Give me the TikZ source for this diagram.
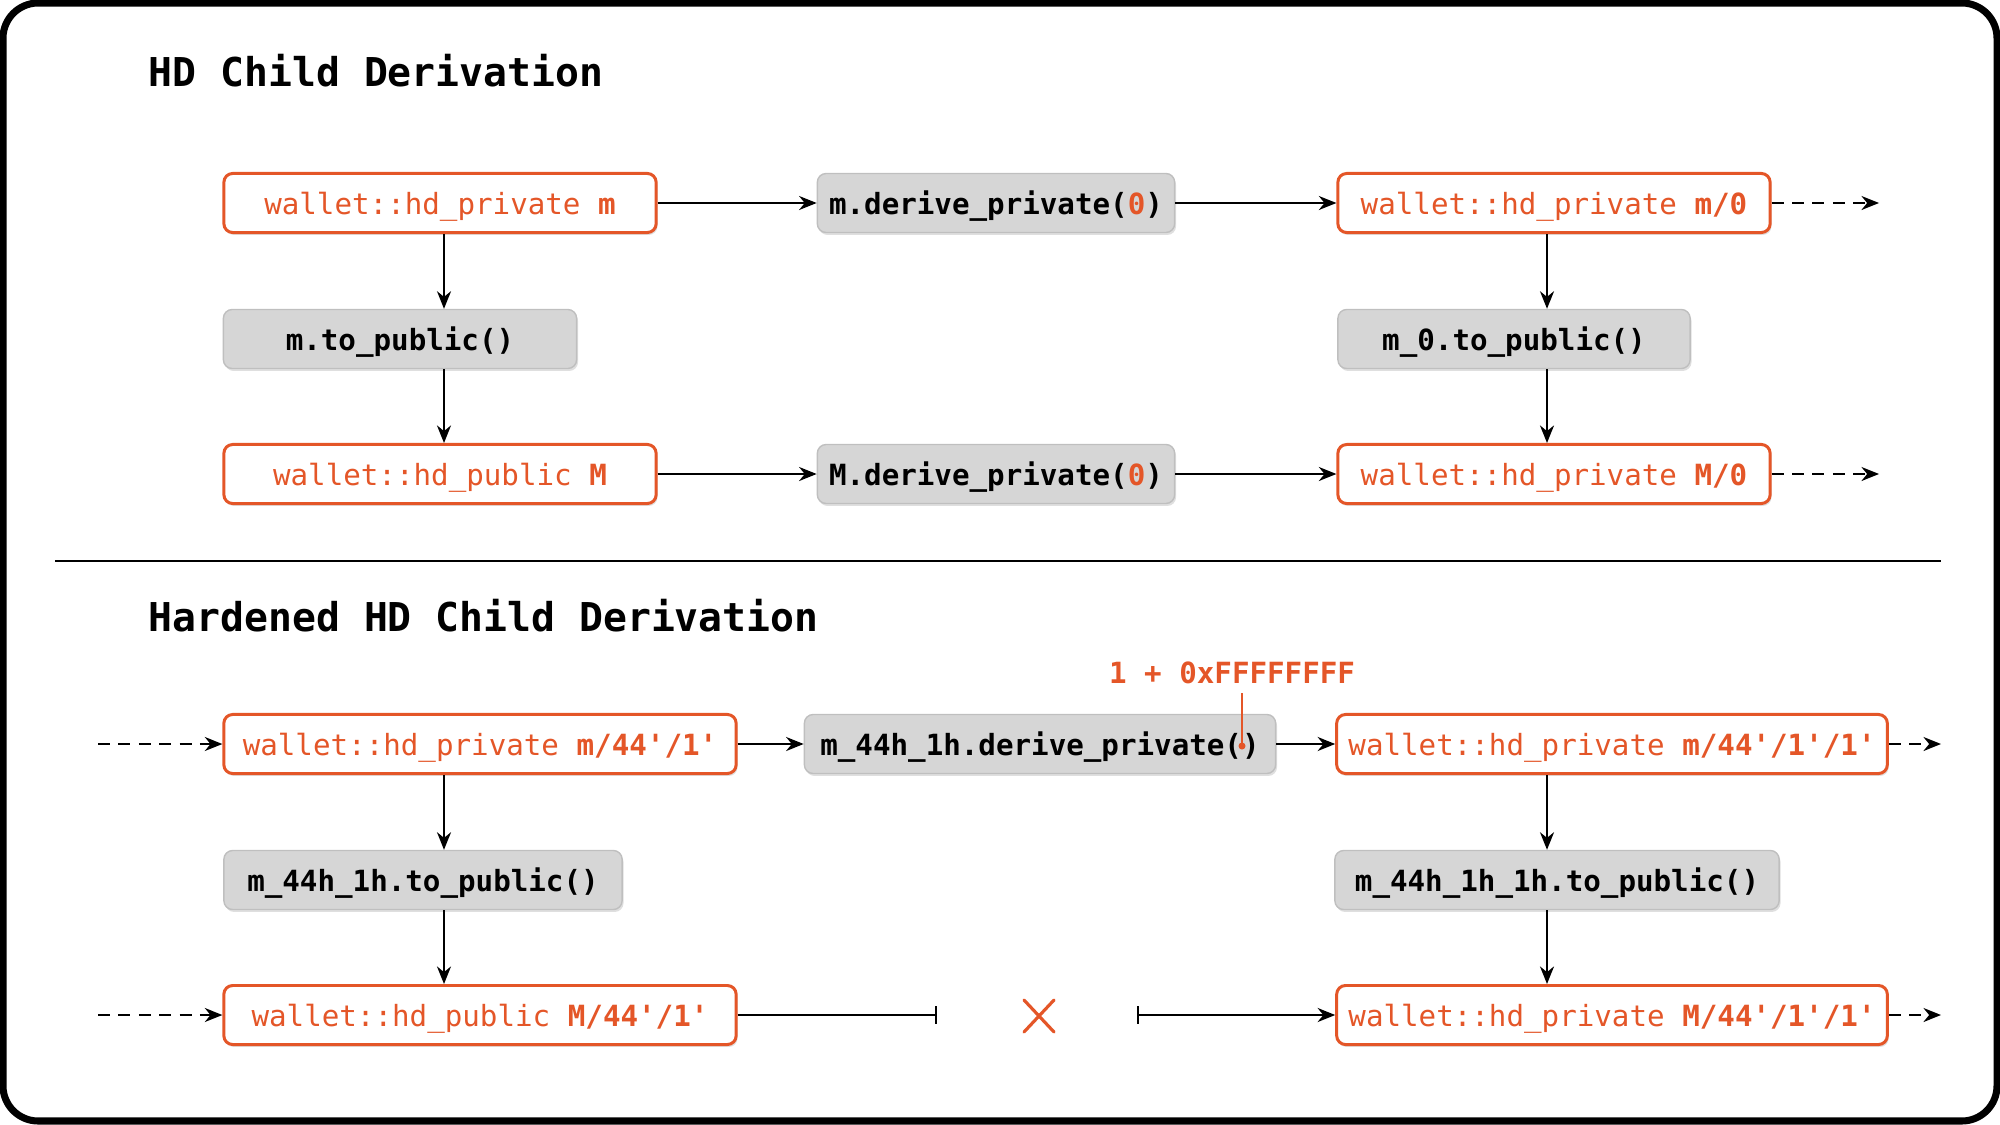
\documentclass[tikz,border=0pt]{standalone}
\usepackage{fontspec}
\setmonofont{DejaVu Sans Mono}
\usepackage{xcolor}
\usepackage{tikz}
\usetikzlibrary{shapes.misc,arrows.meta,positioning,shadows}
\definecolor{hdorange}{RGB}{228,86,40}
\definecolor{callgray}{RGB}{214,214,214}

\begin{document}
\begin{tikzpicture}[
    x=0.01cm, y=-0.01cm,
    key/.style={rectangle, rounded corners=2.5pt, draw=hdorange, line width=0.85pt, fill=white, text=hdorange, font=\ttfamily\fontsize{8.3}{10}\selectfont, text height=0.78em, text depth=0.1em, minimum height=0.59cm, drop shadow={shadow xshift=0.4pt, shadow yshift=-0.7pt, opacity=0.25}},
    call/.style={rectangle, rounded corners=2.5pt, draw=black!25, line width=0.4pt, fill=callgray, font=\ttfamily\bfseries\fontsize{8.3}{10}\selectfont, text height=0.78em, text depth=0.1em, minimum height=0.59cm, drop shadow={shadow xshift=0.4pt, shadow yshift=-0.7pt, opacity=0.25}},
    heading/.style={anchor=base west, inner sep=0pt, font=\ttfamily\bfseries\fontsize{11.3}{13}\selectfont},
    arrow/.style={-{Stealth[length=5pt, width=4pt]}, line width=0.55pt},
    more/.style={arrow, dash pattern=on 3.4pt off 2.4pt},
]
    \path[use as bounding box] (0,0) rectangle (2000,1124);
    \draw[line width=2pt, rounded corners=10pt] (3,3) rectangle (1997,1121);

    \node[heading] (T1) at (148,87) {HD Child Derivation};
    \node[key, minimum width=4.32cm] (A) at (440,203) {wallet::hd\_private \textbf{m}};
    \node[call, minimum width=3.52cm] (B) at (996,203) {m.derive\_private(\textcolor{hdorange}{0})};
    \node[key, minimum width=4.32cm] (C) at (1554,203) {wallet::hd\_private \textbf{m/0}};
    \node[call, minimum width=3.53cm] (D) at (400,339) {m.to\_public()};
    \node[call, minimum width=3.52cm] (E) at (1514,339) {m\_0.to\_public()};
    \node[key, minimum width=4.32cm] (F) at (440,474) {wallet::hd\_public \textbf{M}};
    \node[call, minimum width=3.52cm] (G) at (996,474) {M.derive\_private(\textcolor{hdorange}{0})};
    \node[key, minimum width=4.32cm] (H) at (1554,474) {wallet::hd\_private \textbf{M/0}};
    \coordinate (colL) at (444,0);
    \coordinate (colR) at (1547,0);
    \coordinate (endC) at (1879,203);
    \coordinate (endH) at (1879,474);

    \draw[arrow] (A) -- (B);
    \draw[arrow] (B) -- (C);
    \draw[arrow] (F) -- (G);
    \draw[arrow] (G) -- (H);
    \draw[more] (C) -- (endC);
    \draw[more] (H) -- (endH);
    \draw[arrow] (A.south -| colL) -- (D.north -| colL);
    \draw[arrow] (D.south -| colL) -- (F.north -| colL);
    \draw[arrow] (C.south -| colR) -- (E.north -| colR);
    \draw[arrow] (E.south -| colR) -- (H.north -| colR);

    \coordinate (sepL) at (55,561);
    \coordinate (sepR) at (1941,561);
    \draw[line width=0.45pt] (sepL) -- (sepR);

    \node[heading] (T2) at (148,631) {Hardened HD Child Derivation};
    \node[key, minimum width=5.12cm] (I) at (480,744) {wallet::hd\_private \textbf{m/44'/1'}};
    \node[call, minimum width=4.71cm] (J) at (1040,744) {m\_44h\_1h.derive\_private()};
    \node[key, minimum width=5.48cm] (K) at (1612,744) {wallet::hd\_private \textbf{m/44'/1'/1'}};
    \node[call, minimum width=3.98cm] (L) at (423,880) {m\_44h\_1h.to\_public()};
    \node[call, minimum width=4.44cm] (M) at (1557,880) {m\_44h\_1h\_1h.to\_public()};
    \node[key, minimum width=5.12cm] (N) at (480,1015) {wallet::hd\_public \textbf{M/44'/1'}};
    \node[key, minimum width=5.48cm] (O) at (1612,1015) {wallet::hd\_private \textbf{M/44'/1'/1'}};
    \node[text=hdorange, font=\ttfamily\bfseries\fontsize{8.3}{10}\selectfont] (hex) at (1232,673) {1 + 0xFFFFFFFF};
    \node[cross out, draw=hdorange, line width=0.9pt, line cap=round, minimum width=0.27cm, minimum height=0.29cm, inner sep=0pt] (nope) at (1039,1016) {};
    \coordinate (dot) at (1242,746);
    \coordinate (startI) at (98,744);
    \coordinate (startN) at (98,1015);
    \coordinate (endK) at (1941,744);
    \coordinate (endO) at (1941,1015);
    \coordinate (cutL) at (937,1015);
    \coordinate (cutR) at (1137,1015);

    \draw[hdorange, line width=0.4pt] (hex.south -| dot) ++(0,-3) -- (dot);
    \fill[hdorange] (dot) circle (1pt);
    \draw[more] (startI) -- (I);
    \draw[more] (startN) -- (N);
    \draw[arrow] (I) -- (J);
    \draw[arrow] (J) -- (K);
    \draw[more] (K) -- (endK);
    \draw[more] (O) -- (endO);
    \draw[line width=0.55pt, -{Bar[width=5pt]}] (N) -- (cutL);
    \draw[line width=0.55pt, {Bar[width=5pt]}-{Stealth[length=5pt, width=4pt]}] (cutR) -- (O);
    \draw[arrow] (I.south -| colL) -- (L.north -| colL);
    \draw[arrow] (L.south -| colL) -- (N.north -| colL);
    \draw[arrow] (K.south -| colR) -- (M.north -| colR);
    \draw[arrow] (M.south -| colR) -- (O.north -| colR);
\end{tikzpicture}
\end{document}
